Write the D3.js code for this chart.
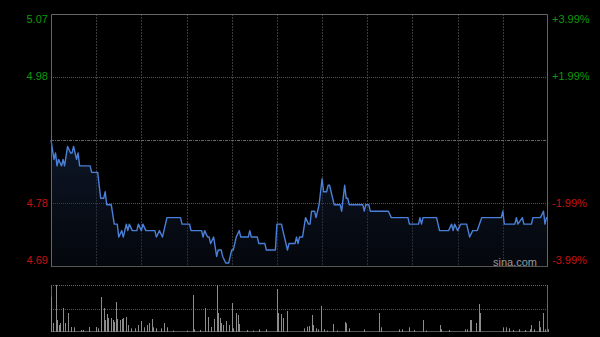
<!DOCTYPE html>
<html><head><meta charset="utf-8">
<script src="https://cdn.jsdelivr.net/npm/d3@7"></script>
<style>html,body{margin:0;padding:0;background:#000;}svg{display:block;}</style>
</head><body>
<svg id="c" width="600" height="337"></svg>
<script>
// ---- data ----
const prevClose = 4.88;
const priceLabelsLeft = ["5.07", "4.98", "", "4.78", "4.69"];
const pctLabelsRight = ["+3.99%", "+1.99%", "", "-1.99%", "-3.99%"];
// trading minute index (0..330, HK session with lunch break) and price at line vertices
const priceMinutes = [0,2,3,4,5,7,8,9,11,13,14,15,17,18,19,21,26,27,31,33,35,36,37,40,42,44,45,47,48,50,51,52,54,57,58,60,61,63,69,70,72,74,77,86,87,92,93,100,101,102,104,105,106,108,110,111,113,114,116,118,120,121,123,125,126,131,132,133,137,138,142,143,149,150,153,155,157,158,162,163,164,165,167,169,171,172,173,175,176,178,180,181,183,184,185,188,192,193,195,196,197,198,207,208,209,211,212,224,226,237,238,244,245,246,247,256,258,264,266,267,268,270,272,276,278,280,283,286,299,300,301,308,309,310,313,314,319,320,325,327,328,329,330];
const prices = [4.88,4.85,4.86,4.84,4.85,4.84,4.85,4.84,4.87,4.86,4.86,4.87,4.85,4.86,4.84,4.84,4.84,4.83,4.83,4.79,4.79,4.80,4.78,4.78,4.75,4.75,4.73,4.74,4.73,4.75,4.74,4.75,4.74,4.74,4.75,4.74,4.75,4.74,4.74,4.73,4.74,4.73,4.76,4.76,4.75,4.75,4.74,4.74,4.73,4.74,4.73,4.73,4.72,4.73,4.70,4.71,4.71,4.70,4.69,4.69,4.71,4.71,4.73,4.74,4.73,4.73,4.74,4.73,4.73,4.72,4.72,4.71,4.71,4.75,4.75,4.73,4.71,4.72,4.72,4.73,4.72,4.73,4.73,4.76,4.75,4.75,4.77,4.77,4.76,4.78,4.82,4.80,4.80,4.81,4.81,4.78,4.78,4.77,4.81,4.79,4.79,4.78,4.78,4.77,4.78,4.78,4.77,4.77,4.76,4.76,4.75,4.75,4.76,4.75,4.76,4.76,4.74,4.74,4.75,4.74,4.75,4.74,4.75,4.75,4.73,4.74,4.74,4.76,4.76,4.77,4.75,4.75,4.76,4.75,4.76,4.75,4.75,4.76,4.76,4.77,4.75,4.76,4.76];
// volume bars (minute index, volume in thousand shares)
const volMinutes = [0,1,3,4,5,6,8,9,11,13,15,20,21,25,30,31,33,35,36,37,38,40,41,42,43,44,46,47,48,50,51,53,56,58,60,62,64,65,67,68,70,73,75,77,81,90,94,95,99,102,104,106,108,110,111,112,113,114,116,118,120,121,123,124,125,130,134,138,143,150,151,153,154,157,168,170,171,173,174,176,177,179,181,183,187,190,195,196,198,208,218,219,231,233,238,241,247,249,258,259,264,275,276,278,279,282,284,285,300,302,304,307,311,315,318,319,321,324,325,327,328,330];
const volumes = [35,9,47,12,7,9,24,9,19,5,4.7,2,2,5,5,3.7,35,24,12,18,14,14,12,10,30,13,12,13,14,15,7,3.7,3.7,7,11,4.7,7,9,13,4.7,3.7,3.7,9,4.7,1.5,1.5,37,2.7,2,24,15,5,13,47,19,14,9,7,11,7,29,3.7,19,17,8,2,1.5,2.7,2.7,43,19,18,14,21,3.7,5.3,6,17,7,3.7,2.7,26,2.7,1.5,8,1.5,10,8.7,3.7,2.7,19,4.7,2.7,2.7,4.7,2,12,1.5,7,2.7,2,2.7,2.7,12,12,9,28,19,4.7,4.7,3.7,2,2.7,2,2.7,7,2.7,11,4.7,19,2.7,2.7];
const totalMinutes = 330;

// ---- layout ----
const L = 51, R = 548, T = 14, B = 266;
const VT = 285, VB = 332;
const svg = d3.select("#c");
const x = d3.scaleLinear().domain([0, totalMinutes]).range([L, R]);
const pct = 0.0399;
const y = d3.scaleLinear().domain([prevClose*(1-pct), prevClose*(1+pct)]).range([B, T]);
const yv = d3.scaleLinear().domain([0, d3.max(volumes)]).range([VB, VT]);

// gradient
const defs = svg.append("defs");
const g = defs.append("linearGradient").attr("id","ag").attr("x1",0).attr("y1",0).attr("x2",0).attr("y2",1);
g.append("stop").attr("offset","0%").attr("stop-color","#1a2a4a").attr("stop-opacity",0.55);
g.append("stop").attr("offset","100%").attr("stop-color","#0c1424").attr("stop-opacity",0.35);

// vertical grid
const vticks = d3.range(1, 11).map(i => i*totalMinutes/11);
svg.append("g").selectAll("line").data(vticks).join("line")
  .attr("x1", d => Math.round(x(d))+0.5).attr("x2", d => Math.round(x(d))+0.5)
  .attr("y1", T).attr("y2", B)
  .attr("stroke", "#3a3a3a").attr("stroke-dasharray", "2,1");

// horizontal grid
const hvals = [prevClose*(1+0.0199), prevClose, prevClose*(1-0.0199)];
svg.append("g").selectAll("line").data(hvals).join("line")
  .attr("x1", L).attr("x2", R)
  .attr("y1", d => Math.round(y(d))+0.5).attr("y2", d => Math.round(y(d))+0.5)
  .attr("stroke", (d,i) => i===1 ? "#6a6a6a" : "#555").attr("stroke-dasharray", (d,i)=> i===1 ? "3,1,1,1" : "1,1");

// area + line
const pts = priceMinutes.map((m,i) => [m, prices[i]]);
svg.append("path").datum(pts)
  .attr("d", d3.area().x(d => x(d[0])).y0(B).y1(d => y(d[1])))
  .attr("fill", "url(#ag)");
svg.append("path").datum(pts)
  .attr("d", d3.line().x(d => x(d[0])).y(d => y(d[1])))
  .attr("fill", "none").attr("stroke", "#4a80d8").attr("stroke-width", 1.4).attr("stroke-linejoin","round");

// frame
svg.append("path").attr("d", `M${L+0.5},${B}V${T+0.5}H${R-0.5}V${B}`)
  .attr("fill","none").attr("stroke","#666");
svg.append("line").attr("x1", L).attr("x2", R).attr("y1", B+0.5).attr("y2", B+0.5).attr("stroke", "#555");

// left labels
const labelVals = [prevClose*(1+pct), prevClose*(1+0.0199), prevClose, prevClose*(1-0.0199), prevClose*(1-pct)];
const labelY = [19, 76.5, 140, 203, 260];
svg.append("g").selectAll("text").data(priceLabelsLeft).join("text")
  .attr("x", 48).attr("y", (d,i) => labelY[i]).attr("dy","0.35em")
  .attr("text-anchor","end").attr("font-family","Liberation Sans, Arial, sans-serif").attr("font-size", 11)
  .attr("fill", (d,i) => i<2 ? "#0c9a0c" : "#c81010").text(d => d);
svg.append("g").selectAll("text").data(pctLabelsRight).join("text")
  .attr("x", 552).attr("y", (d,i) => labelY[i]).attr("dy","0.35em")
  .attr("text-anchor","start").attr("font-family","Liberation Sans, Arial, sans-serif").attr("font-size", 11)
  .attr("fill", (d,i) => i<2 ? "#0c9a0c" : "#c81010").text(d => d);

// watermark
svg.append("text").attr("x", 537).attr("y", 262).attr("dy","0.35em").attr("text-anchor","end")
  .attr("font-family","Liberation Sans, Arial, sans-serif").attr("font-size", 11).attr("fill","#9a9a9a").text("sina.com");

// volume panel
svg.append("line").attr("x1",L).attr("x2",R).attr("y1",VT+0.5).attr("y2",VT+0.5).attr("stroke","#666").attr("stroke-dasharray","1,1");
svg.append("line").attr("x1",L).attr("x2",R).attr("y1",Math.round((VT+VB)/2)+0.5).attr("y2",Math.round((VT+VB)/2)+0.5).attr("stroke","#555").attr("stroke-dasharray","1,1");
svg.append("line").attr("x1",L+0.5).attr("x2",L+0.5).attr("y1",VT).attr("y2",VB).attr("stroke","#666");
svg.append("line").attr("x1",R-0.5).attr("x2",R-0.5).attr("y1",VT).attr("y2",VB).attr("stroke","#666");
svg.append("line").attr("x1",L).attr("x2",R).attr("y1",VB-0.5).attr("y2",VB-0.5).attr("stroke","#555");
svg.append("g").selectAll("rect").data(volMinutes.map((m,i)=>[m,volumes[i]])).join("rect")
  .attr("x", d => Math.round(x(d[0]))).attr("width", 1)
  .attr("y", d => yv(d[1])).attr("height", d => VB - yv(d[1]))
  .attr("fill", "#8c8c8c");
</script>
</body></html>
